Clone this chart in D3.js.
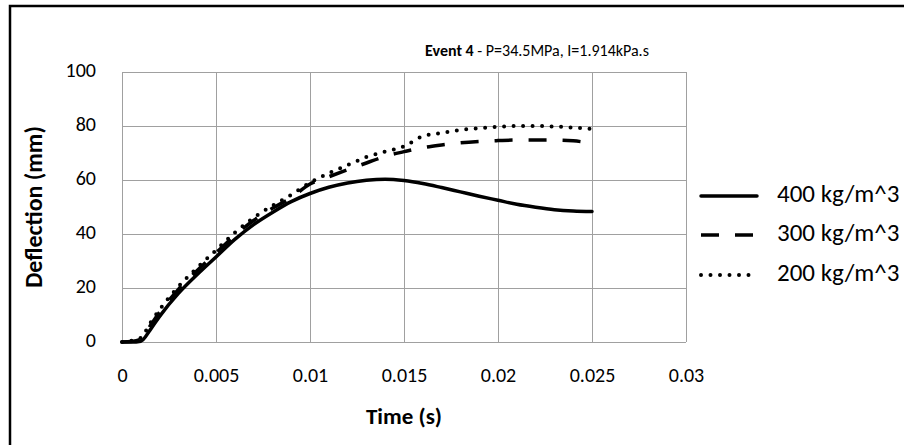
<!DOCTYPE html>
<html>
<head>
<meta charset="utf-8">
<script src="https://cdn.jsdelivr.net/npm/d3@7/dist/d3.min.js"></script>
<style>
  html, body { margin: 0; padding: 0; background: #fff; }
  svg { display: block; }
  text { font-family: Carlito, Calibri, Lato, "Open Sans", sans-serif; fill: #000; }
</style>
</head>
<body>
<svg id="chart" width="904" height="445"></svg>
<script>
// ---- data ----
const time = [0, 0.0005, 0.001, 0.0015, 0.002, 0.003, 0.004, 0.005, 0.006, 0.007, 0.008, 0.009,
  0.010, 0.011, 0.012, 0.013, 0.014, 0.015, 0.016, 0.017, 0.018, 0.019, 0.020, 0.021, 0.022, 0.023, 0.024, 0.025];
const d400 = [0, 0, 0.3, 4.5, 9.5, 18, 25, 31.5, 38, 43.5, 48, 52,
  55, 57.3, 58.9, 59.9, 60.3, 59.8, 58.7, 57.2, 55.6, 54, 52.5, 51, 49.9, 49, 48.5, 48.3];
const d300 = [0, 0.2, 1, 6, 11, 19.5, 26.5, 33, 39.5, 45, 49.5, 53.5,
  58.5, 61.2, 63.8, 66.3, 68.8, 70.5, 72, 73, 73.8, 74.3, 74.6, 74.8, 74.8, 74.8, 74.5, 73.6];
const d200 = [0, 0.5, 1.5, 7, 12, 20.5, 27.5, 34, 40.5, 46, 50.5, 54.5,
  59, 62.5, 65.5, 68.5, 70.5, 72.5, 76.2, 77.4, 78.5, 79.2, 79.7, 80, 80, 79.8, 79.4, 78.9];
const seriesNames = ["400 kg/m^3", "300 kg/m^3", "200 kg/m^3"];
const xTicks = [0, 0.005, 0.01, 0.015, 0.02, 0.025, 0.03];
const xTickLabels = ["0", "0.005", "0.01", "0.015", "0.02", "0.025", "0.03"];
const yTicks = [0, 20, 40, 60, 80, 100];
const titleBold = "Event 4";
const titleRest = " - P=34.5MPa, I=1.914kPa.s";
const xTitle = "Time (s)";
const yTitle = "Deflection (mm)";

// ---- drawing ----
const svg = d3.select("#chart");
const styles = [
  { width: 3.5, dash: null, cap: "round" },
  { width: 3.5, dash: "18,16", cap: "butt" },
  { width: 4, dash: "0,9.5", cap: "round" }
];
const seriesData = [d400, d300, d200];
const FONT = "Carlito, Calibri, Lato, sans-serif";

svg.append("rect").attr("x", 0).attr("y", 0).attr("width", 904).attr("height", 445).attr("fill", "#fff");
// chart border (extends beyond the crop on right/bottom)
svg.append("rect").attr("x", 10).attr("y", 6).attr("width", 1060).attr("height", 460)
  .attr("fill", "none").attr("stroke", "#000").attr("stroke-width", 2.5);

const x = d3.scaleLinear().domain([0, 0.03]).range([122, 686]);
const y = d3.scaleLinear().domain([0, 100]).range([342, 72]);

// gridlines
const grid = svg.append("g");
grid.selectAll("line.v").data(xTicks).join("line")
  .attr("x1", d => Math.round(x(d)) + 0.5).attr("x2", d => Math.round(x(d)) + 0.5)
  .attr("y1", y(100)).attr("y2", y(0))
  .attr("stroke", "#a0a0a0").attr("stroke-width", 1);
grid.selectAll("line.h").data(yTicks).join("line")
  .attr("y1", d => Math.round(y(d)) + 0.5).attr("y2", d => Math.round(y(d)) + 0.5)
  .attr("x1", x(0)).attr("x2", x(0.03))
  .attr("stroke", "#a0a0a0").attr("stroke-width", 1);

// axes labels via d3 axes
const xAxis = d3.axisBottom(x).tickValues(xTicks).tickFormat((d, i) => xTickLabels[i]).tickSize(0).tickPadding(0);
const gx = svg.append("g").attr("transform", `translate(0,${y(0)})`).call(xAxis);
gx.select(".domain").remove();
gx.selectAll("text").attr("font-size", 20).attr("dy", null).attr("y", 35)
  .attr("dominant-baseline", "middle").style("font-family", FONT).attr("fill", "#000");

const yAxis = d3.axisLeft(y).tickValues(yTicks).tickSize(0).tickPadding(0);
const gy = svg.append("g").attr("transform", `translate(${x(0)},0)`).call(yAxis);
gy.select(".domain").remove();
gy.selectAll("text").attr("font-size", 20).attr("x", -26).attr("dy", null)
  .attr("dominant-baseline", "middle").style("font-family", FONT).attr("fill", "#000");

// series lines
const line = d3.line().x((d, i) => x(time[i])).y(d => y(d)).curve(d3.curveMonotoneX);
seriesData.forEach((s, k) => {
  svg.append("path").datum(s).attr("d", line)
    .attr("fill", "none").attr("stroke", "#000")
    .attr("stroke-width", styles[k].width)
    .attr("stroke-dasharray", styles[k].dash)
    .attr("stroke-linecap", styles[k].cap)
    .attr("stroke-linejoin", "round");
});

// title
const t = svg.append("text").attr("x", 537).attr("y", 52).attr("text-anchor", "middle")
  .attr("dominant-baseline", "middle").attr("font-size", 16);
t.append("tspan").attr("font-weight", "bold").text(titleBold);
t.append("tspan").text(titleRest);

// axis titles
svg.append("text").attr("x", x(0.015)).attr("y", 418).attr("text-anchor", "middle")
  .attr("dominant-baseline", "middle").attr("font-size", 23).attr("font-weight", "bold").text(xTitle);
svg.append("text").attr("transform", `translate(36,${(y(0) + y(100)) / 2}) rotate(-90)`)
  .attr("text-anchor", "middle").attr("dominant-baseline", "middle")
  .attr("font-size", 24).attr("font-weight", "bold").text(yTitle);

// legend
const legendY = [196, 235, 275];
seriesNames.forEach((name, k) => {
  svg.append("line").attr("x1", 701).attr("x2", 757).attr("y1", legendY[k]).attr("y2", legendY[k])
    .attr("stroke", "#000").attr("stroke-width", styles[k].width)
    .attr("stroke-dasharray", styles[k].dash).attr("stroke-linecap", styles[k].cap);
  svg.append("text").attr("x", 777).attr("y", legendY[k]).attr("dominant-baseline", "middle")
    .attr("font-size", 25).text(name);
});
</script>
</body>
</html>
